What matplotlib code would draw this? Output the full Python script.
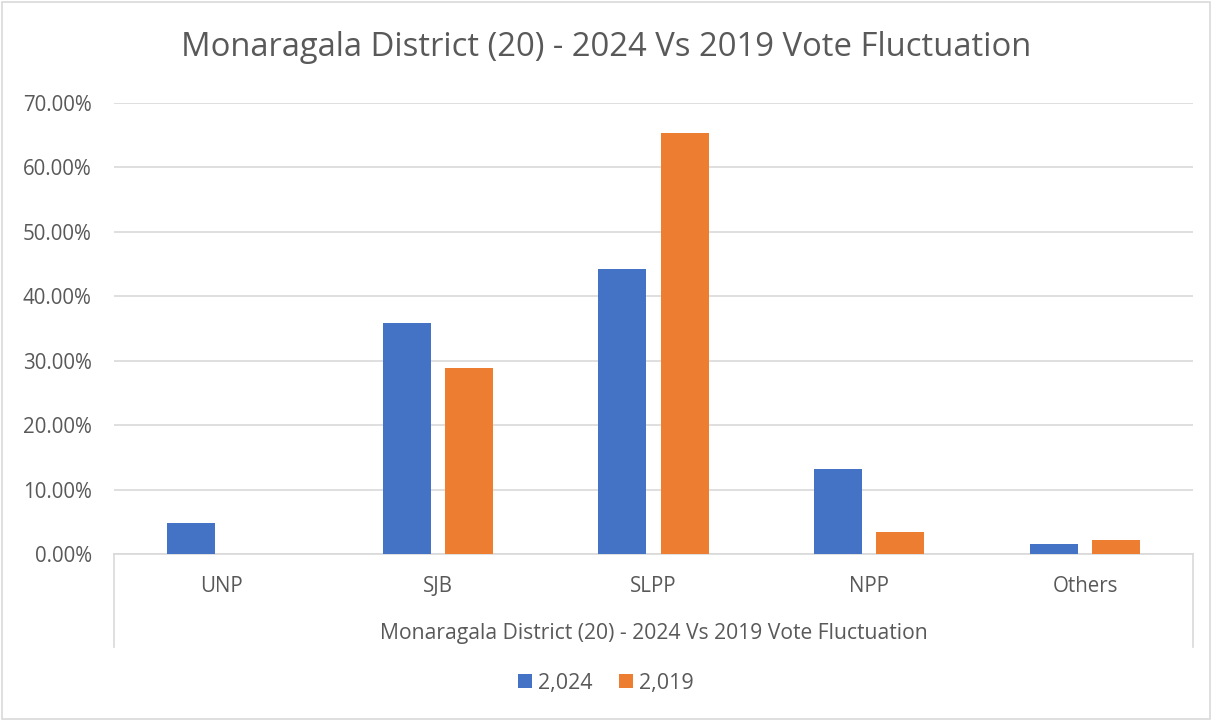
import numpy as np
import matplotlib.pyplot as plt
from matplotlib.ticker import PercentFormatter

# Vote share by party, Monaragala District
parties = ["UNP", "SJB", "SLPP", "NPP", "Others"]
share_2024 = [0.048, 0.359, 0.443, 0.132, 0.0155]
share_2019 = [0.0, 0.289, 0.654, 0.034, 0.022]
series_labels = ["2,024", "2,019"]
title = "Monaragala District (20) - 2024 Vs 2019 Vote Fluctuation"

plt.rcParams["font.family"] = ["Open Sans", "DejaVu Sans"]
text_color = "#595959"
grid_color = "#d9d9d9"

W, H = 1212, 721
fig = plt.figure(figsize=(W / 100, H / 100), dpi=100)
ax = fig.add_axes([114 / W, 167 / H, (1193 - 114) / W, 451 / H])

x = np.arange(len(parties))
width = 0.222
b1 = ax.bar(x - 0.144, share_2024, width, color="#4472c4", label=series_labels[0], zorder=3)
b2 = ax.bar(x + 0.144, share_2019, width, color="#ed7d31", label=series_labels[1], zorder=3)

ax.set_xlim(-0.5, len(parties) - 0.5)
ax.set_ylim(0, 0.7)
ax.set_yticks(np.arange(0, 0.71, 0.1))
ax.yaxis.set_major_formatter(PercentFormatter(1.0, decimals=2))
ax.grid(axis="y", color=grid_color, linewidth=1.2, zorder=0)

for s in ["top", "right", "left"]:
    ax.spines[s].set_visible(False)
ax.spines["bottom"].set_color(grid_color)
ax.spines["bottom"].set_linewidth(1.2)

ax.set_xticks(x)
ax.set_xticklabels(parties, fontsize=14.8, color=text_color)
ax.tick_params(axis="x", length=0, pad=16)
ax.tick_params(axis="y", length=0, labelsize=14.8, labelcolor=text_color, pad=16)

# multi-level category box sides
depth = 93 / 451
for xa in (0, 1):
    ax.plot([xa, xa], [0, -depth], transform=ax.transAxes, color=grid_color,
            linewidth=1.2, clip_on=False)

ax.text(0.5, -79 / 451, title, transform=ax.transAxes, ha="center", va="center",
        fontsize=15.2, color=text_color)

fig.text(0.5, 1 - 48 / H, title, ha="center", va="center", fontsize=23.6, color=text_color)

fig.legend(handles=[b1, b2], loc="center", bbox_to_anchor=(0.5, 1 - 683 / H), ncol=2,
           frameon=False, fontsize=15.5, labelcolor=text_color, handlelength=0.65,
           handleheight=0.65, handletextpad=0.3, columnspacing=1.2)

# outer chart border
fig.patches.append(plt.Rectangle((0.002, 0.003), 0.996, 0.994, transform=fig.transFigure,
                                 fill=False, edgecolor=grid_color, linewidth=1.2))

plt.savefig("out.png", dpi=100)
